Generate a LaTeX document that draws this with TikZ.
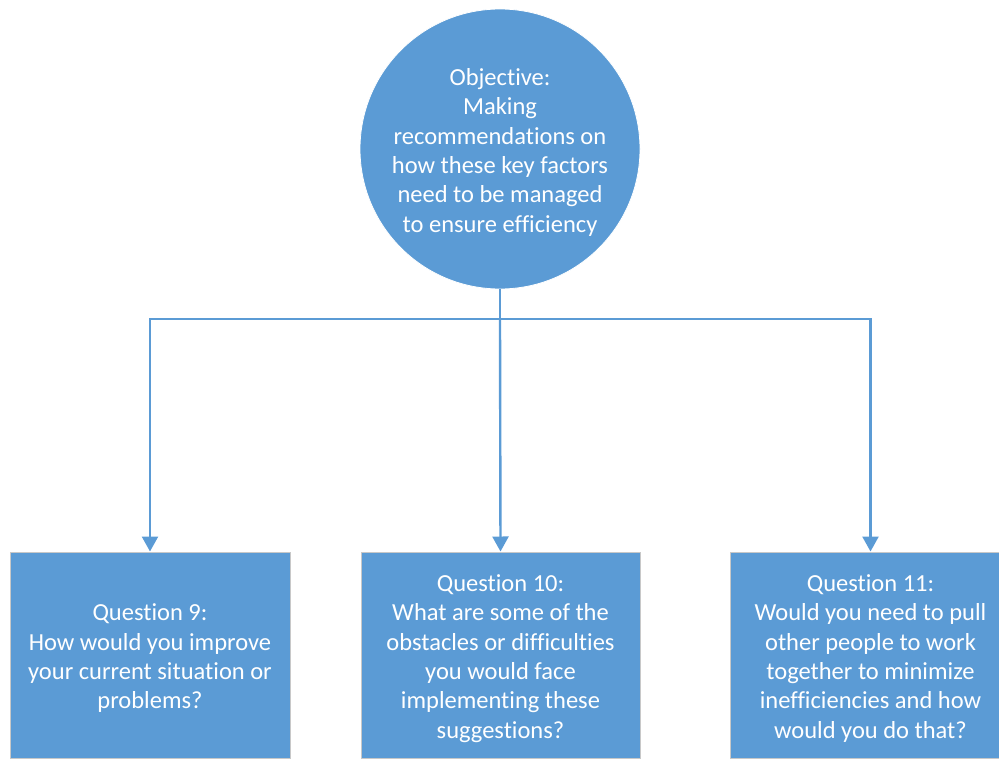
\documentclass[tikz,border=0pt]{standalone}
\usepackage{fontspec}
\setmainfont[Ligatures={NoCommon}]{Carlito}
\usetikzlibrary{arrows.meta}
\definecolor{blockblue}{HTML}{5B9BD5}
\definecolor{edgegray}{HTML}{C8C8C8}
% centred stack of lines, set a little below the node centre
\newcommand\textstack[1]{\raisebox{-4pt}[\height][\depth]{\begin{tabular}{@{}c@{}}#1\end{tabular}}}
\begin{document}
\begin{tikzpicture}[x=1pt,y=-1pt,
  txt/.style={text=white,font=\fontsize{24.5}{29.4}\selectfont},
  objective/.style={circle,fill=blockblue,draw=white,line width=0.8pt,minimum size=280pt,inner sep=0pt,txt},
  question/.style={rectangle,fill=blockblue,draw=edgegray,line width=1pt,minimum height=206pt,inner sep=0pt,txt},
  link/.style={draw=blockblue,line width=2.4pt},
  arrowlink/.style={link,-{Triangle[width=16pt,length=15pt]}}]
\useasboundingbox (0,0) rectangle (999,760);
\clip (0,0) rectangle (999,760);

\node[objective] (obj) at (500,149) {\textstack{Objective:\\Making\\recommendations on\\how these key factors\\need to be managed\\to ensure efficiency}};

\node[question,minimum width=280pt] (q9) at (150,655) {\textstack{Question 9:\\How would you improve\\your current situation or\\problems?}};
\node[question,minimum width=279pt] (q10) at (500.5,655) {\textstack{Question 10:\\What are some of the\\obstacles or difficulties\\you would face\\implementing these\\suggestions?}};
\node[question,minimum width=281pt] (q11) at (870.5,655) {\textstack{Question 11:\\Would you need to pull\\other people to work\\together to minimize\\inefficiencies and how\\would you do that?}};

\coordinate (hub) at (500,319);
\draw[link] (obj.south) -- (hub);
\draw[arrowlink] (hub) -| (q9.north);
\draw[arrowlink] (hub) -- (q10.north);
\draw[arrowlink] (hub) -| (q11.north);
\end{tikzpicture}
\end{document}
